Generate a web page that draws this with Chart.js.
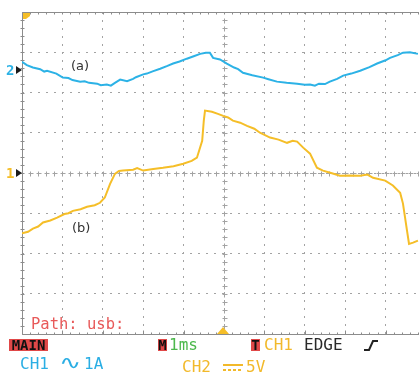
<!DOCTYPE html>
<html>
<head>
<meta charset="utf-8">
<script src="https://cdn.jsdelivr.net/npm/chart.js@4.4.1/dist/chart.umd.min.js"></script>
<style>
    html, body { margin: 0; padding: 0; background: #ffffff; overflow: hidden; width: 419px; height: 375px; }
    #wrap { position: relative; width: 419px; height: 375px; overflow: hidden; }
    #scope { position: absolute; left: 0; top: 0; }
    .t { position: absolute; font-family: "DejaVu Sans Mono", monospace; font-size: 16px; line-height: 16px; white-space: pre; }
    .box { position: absolute; background: #e04848; color: #111; font-family: "DejaVu Sans Mono", monospace; font-weight: bold; font-size: 14px; line-height: 12px; height: 12px; text-align: center; overflow: hidden; }
    .lbl { position: absolute; font-family: "DejaVu Sans", sans-serif; font-size: 13px; line-height: 13px; color: #333; }
</style>
</head>
<body>
<div id="wrap">
    <canvas id="scope" width="430" height="375"></canvas>

    <div class="lbl" style="left:71px; top:59px;">(a)</div>
    <div class="lbl" style="left:72px; top:221px;">(b)</div>

    <div class="t" style="left:31px; top:316px; color:#e85a5a; font-size:15.5px;">Path: usb:</div>

    <div class="box" style="left:9px; top:339px; width:39px;">MAIN</div>
    <div class="box" style="left:158px; top:339px; width:9px;">M</div>
    <div class="t" style="left:169px; top:337px; color:#4cb84c;">1ms</div>
    <div class="box" style="left:251px; top:339px; width:9px;">T</div>
    <div class="t" style="left:264px; top:337px; color:#f2b92a;">CH1</div>
    <div class="t" style="left:304px; top:337px; color:#2a2a2a;">EDGE</div>
    <svg style="position:absolute; left:363px; top:339px;" width="16" height="13">
        <polyline points="1,11 6,11 10,2 15,2" fill="none" stroke="#222" stroke-width="2"/>
    </svg>

    <div class="t" style="left:20px; top:356px; color:#2aaee4;">CH1</div>
    <div class="t" style="left:59px; top:354px; color:#2aaee4; font-size:19px; transform:scaleX(1.4); transform-origin:left top;">∿</div>
    <div class="t" style="left:84px; top:356px; color:#2aaee4;">1A</div>

    <div class="t" style="left:182px; top:359px; color:#f2b92a;">CH2</div>
    <svg style="position:absolute; left:222px; top:362px;" width="22" height="10">
        <line x1="1" y1="3" x2="21" y2="3" stroke="#f2b92a" stroke-width="2"/>
        <line x1="1" y1="8" x2="21" y2="8" stroke="#f2b92a" stroke-width="2" stroke-dasharray="3,2"/>
    </svg>
    <div class="t" style="left:246px; top:359px; color:#f2b92a;">5V</div>
</div>

<script>
// time in divisions (1 ms/div), level in divisions from screen centre
const blueTime = [0, 0.12, 0.27, 0.45, 0.55, 0.62, 0.85, 1.01, 1.15, 1.25, 1.44, 1.55, 1.66, 1.86, 1.95, 2.1, 2.2, 2.3, 2.43, 2.6, 2.75, 2.82, 3.0, 3.09, 3.25, 3.42, 3.6, 3.74, 3.9, 4.08, 4.25, 4.41, 4.55, 4.65, 4.73, 4.9, 5.07, 5.25, 5.35, 5.47, 5.7, 5.97, 6.1, 6.31, 6.55, 6.81, 7.0, 7.13, 7.25, 7.35, 7.5, 7.62, 7.8, 7.95, 8.15, 8.37, 8.6, 8.79, 9.0, 9.11, 9.3, 9.43, 9.6, 9.8];
const blueLevel = [2.76, 2.68, 2.62, 2.58, 2.52, 2.54, 2.47, 2.37, 2.36, 2.31, 2.27, 2.28, 2.24, 2.22, 2.18, 2.2, 2.17, 2.24, 2.32, 2.28, 2.34, 2.38, 2.45, 2.47, 2.53, 2.59, 2.66, 2.72, 2.77, 2.84, 2.9, 2.96, 2.99, 2.99, 2.86, 2.82, 2.72, 2.62, 2.58, 2.49, 2.43, 2.37, 2.33, 2.27, 2.24, 2.22, 2.19, 2.2, 2.17, 2.22, 2.21, 2.27, 2.34, 2.42, 2.47, 2.54, 2.63, 2.72, 2.8, 2.86, 2.93, 2.99, 3.0, 2.96];

const orangeTime = [0, 0.15, 0.27, 0.4, 0.52, 0.7, 0.87, 1.05, 1.15, 1.26, 1.45, 1.61, 1.8, 1.93, 2.05, 2.18, 2.3, 2.4, 2.5, 2.75, 2.85, 3.0, 3.25, 3.49, 3.75, 3.99, 4.2, 4.33, 4.46, 4.5, 4.53, 4.7, 4.85, 4.98, 5.1, 5.22, 5.4, 5.57, 5.75, 5.89, 6.14, 6.35, 6.56, 6.7, 6.81, 6.96, 7.13, 7.3, 7.45, 7.65, 7.87, 8.1, 8.37, 8.55, 8.69, 8.99, 9.18, 9.36, 9.43, 9.53, 9.58, 9.68, 9.8];
const orangeLevel = [-1.5, -1.46, -1.38, -1.33, -1.23, -1.18, -1.11, -1.02, -1.0, -0.94, -0.9, -0.84, -0.8, -0.74, -0.61, -0.27, -0.02, 0.05, 0.06, 0.08, 0.12, 0.06, 0.1, 0.13, 0.17, 0.23, 0.3, 0.38, 0.8, 1.3, 1.55, 1.52, 1.47, 1.42, 1.38, 1.3, 1.25, 1.17, 1.1, 1.0, 0.88, 0.83, 0.75, 0.8, 0.78, 0.63, 0.48, 0.13, 0.06, 0.0, -0.07, -0.06, -0.07, -0.04, -0.12, -0.19, -0.31, -0.49, -0.76, -1.43, -1.76, -1.73, -1.68];

const blueColor = '#2cb2e6';
const orangeColor = '#f5be28';
const gridColor = '#a3a3a3';

function toPoints(xs, ys) {
    return xs.map((x, i) => ({ x: x, y: ys[i] }));
}

// oscilloscope frame: border, centre cross ticks, channel markers
const scopeFrame = {
    id: 'scopeFrame',
    beforeDatasetsDraw(chart) {
        const ctx = chart.ctx;
        const xs = chart.scales.x;
        const ys = chart.scales.y;
        const left = xs.getPixelForValue(0);
        const right = xs.getPixelForValue(10);
        const top = ys.getPixelForValue(4);
        const bottom = ys.getPixelForValue(-4);
        const cx = Math.round(xs.getPixelForValue(5)) + 0.5;
        const cy = Math.round(ys.getPixelForValue(0)) + 0.5;
        const step = (right - left) / 50;
        const vstep = (bottom - top) / 40;

        ctx.save();
        ctx.strokeStyle = gridColor;
        ctx.lineWidth = 1;

        // centre cross with minor ticks
        ctx.beginPath();
        for (let i = 1; i < 50; i++) {
            const x = Math.round(left + i * step) + 0.5;
            ctx.moveTo(x, cy - 2); ctx.lineTo(x, cy + 3);
            ctx.moveTo(x - 2, cy); ctx.lineTo(x + 3, cy);
        }
        for (let i = 1; i < 40; i++) {
            const y = Math.round(top + i * vstep) + 0.5;
            ctx.moveTo(cx - 2, y); ctx.lineTo(cx + 3, y);
            ctx.moveTo(cx, y - 2); ctx.lineTo(cx, y + 3);
        }
        ctx.stroke();

        // frame lines with ticks
        ctx.strokeStyle = '#8c8c8c';
        ctx.beginPath();
        const l = Math.round(left) + 0.5, t = Math.round(top) + 0.5, b = Math.round(bottom) + 0.5;
        ctx.moveTo(l, t); ctx.lineTo(l, b);
        ctx.moveTo(l, t); ctx.lineTo(right, t);
        ctx.moveTo(l, b); ctx.lineTo(right, b);
        for (let i = 1; i < 50; i++) {
            const x = Math.round(left + i * step) + 0.5;
            ctx.moveTo(x, t); ctx.lineTo(x, t + 2);
            ctx.moveTo(x, b); ctx.lineTo(x, b - (i % 5 === 0 ? 4 : 2));
        }
        for (let i = 1; i < 40; i++) {
            const y = Math.round(top + i * vstep) + 0.5;
            ctx.moveTo(l - 2, y); ctx.lineTo(l + 2, y);
        }
        ctx.stroke();
        ctx.restore();
    },
    afterDatasetsDraw(chart) {
        const ctx = chart.ctx;
        const xs = chart.scales.x;
        const ys = chart.scales.y;
        const left = xs.getPixelForValue(0);
        const top = ys.getPixelForValue(4);
        const bottom = ys.getPixelForValue(-4);
        const mid = xs.getPixelForValue(5);

        ctx.save();
        // trigger position flag (top left)
        ctx.fillStyle = orangeColor;
        ctx.beginPath();
        ctx.moveTo(left + 1, top + 1);
        ctx.lineTo(left + 8, top + 1);
        ctx.lineTo(left + 8, top + 4);
        ctx.lineTo(left + 4, top + 7);
        ctx.lineTo(left + 1, top + 7);
        ctx.closePath();
        ctx.fill();

        // trigger marker (bottom centre)
        ctx.beginPath();
        ctx.moveTo(mid - 7, bottom);
        ctx.lineTo(mid + 5, bottom);
        ctx.lineTo(mid - 1, bottom - 7);
        ctx.closePath();
        ctx.fill();

        // channel level arrows
        ctx.fillStyle = '#1a1a1a';
        [2.56, 0].forEach(v => {
            const y = ys.getPixelForValue(v);
            ctx.beginPath();
            ctx.moveTo(left - 6, y - 4);
            ctx.lineTo(left, y);
            ctx.lineTo(left - 6, y + 4);
            ctx.closePath();
            ctx.fill();
        });

        ctx.font = 'bold 14px "DejaVu Sans Mono", monospace';
        ctx.textBaseline = 'middle';
        ctx.fillStyle = blueColor;
        ctx.fillText('2', 6, ys.getPixelForValue(2.56) + 1);
        ctx.fillStyle = orangeColor;
        ctx.fillText('1', 6, ys.getPixelForValue(0) + 1);
        ctx.restore();
    }
};

const ctx = document.getElementById('scope').getContext('2d');
const scopeChart = new Chart(ctx, {
    type: 'line',
    data: {
        datasets: [
            {
                label: 'CH1',
                data: toPoints(blueTime, blueLevel),
                borderColor: blueColor,
                borderWidth: 2,
                pointRadius: 0,
                tension: 0,
            },
            {
                label: 'CH2',
                data: toPoints(orangeTime, orangeLevel),
                borderColor: orangeColor,
                borderWidth: 2,
                pointRadius: 0,
                tension: 0,
            }
        ]
    },
    options: {
        responsive: false,
        animation: false,
        layout: {
            padding: { left: 22, top: 12, right: 4, bottom: 41 }
        },
        scales: {
            x: {
                type: 'linear',
                min: 0,
                max: 10,
                ticks: { display: false, stepSize: 1 },
                grid: { color: gridColor, drawTicks: false, lineWidth: 1 },
                border: { display: false, dash: [2, 6] }
            },
            y: {
                type: 'linear',
                min: -4,
                max: 4,
                ticks: { display: false, stepSize: 1 },
                grid: { color: gridColor, drawTicks: false, lineWidth: 1 },
                border: { display: false, dash: [2, 6] }
            }
        },
        plugins: {
            legend: { display: false },
            tooltip: { enabled: false }
        }
    },
    plugins: [scopeFrame]
});
</script>
</body>
</html>
